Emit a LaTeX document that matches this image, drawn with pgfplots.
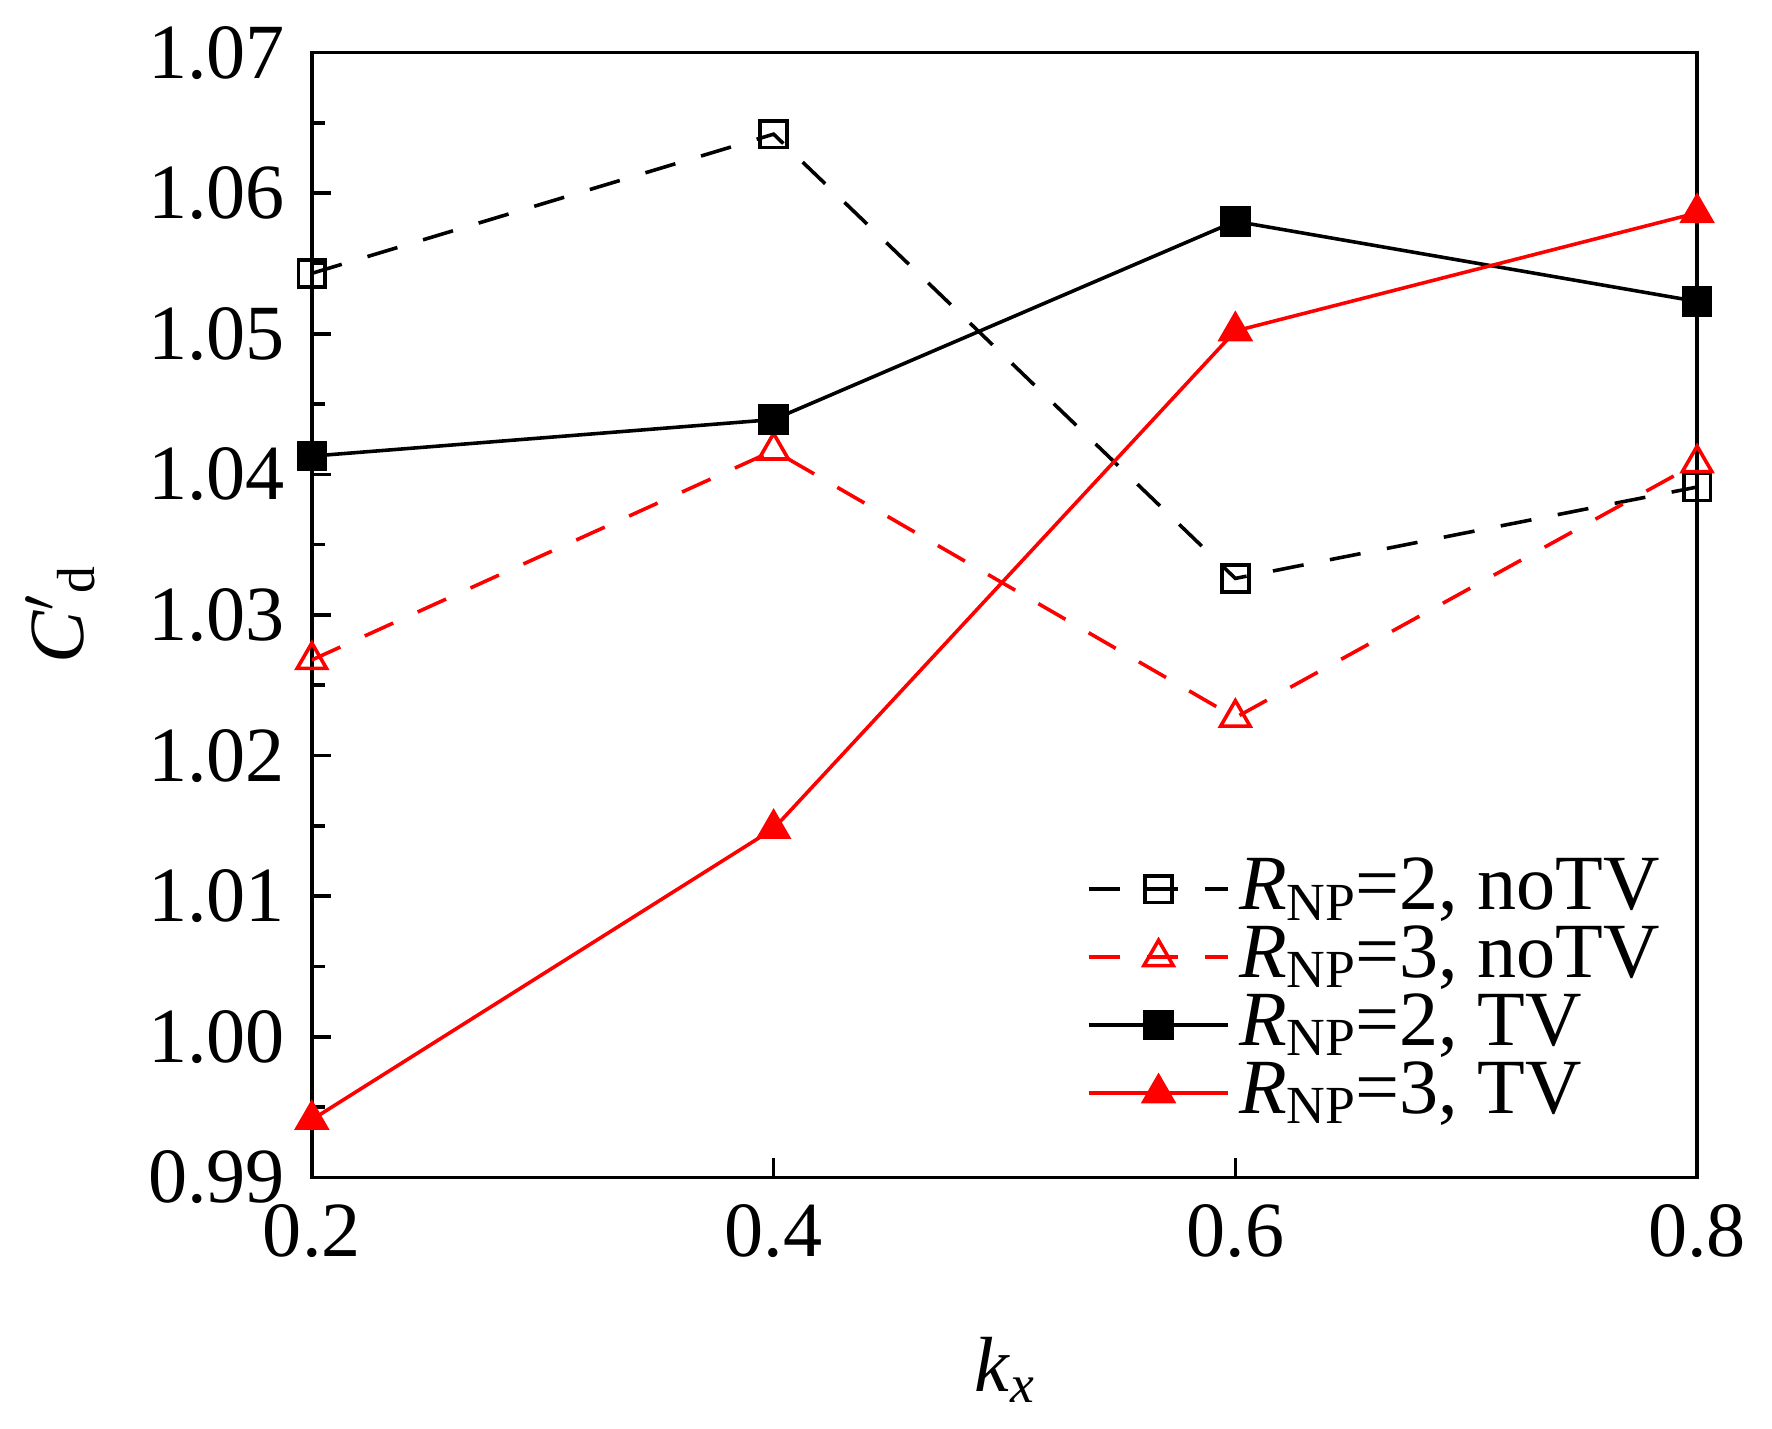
\documentclass[border=0pt]{standalone}
\usepackage{pgfplots}
\pgfplotsset{compat=1.18}
\usepackage{fontspec}
\setmainfont{Liberation Serif}
\begin{document}
\fontsize{17.5}{21}\selectfont
\begin{tikzpicture}
\begin{axis}[
  scale only axis, width=10.9cm, height=8.85cm,
  xmin=0.2, xmax=0.8, ymin=0.99, ymax=1.07,
  xtick={0.2,0.4,0.6,0.8},
  ytick={0.99,1.00,...,1.07},
  minor y tick num=1,
  xticklabel style={/pgf/number format/fixed,/pgf/number format/precision=1},
  yticklabel style={/pgf/number format/fixed,/pgf/number format/fixed zerofill,/pgf/number format/precision=2},
  /pgf/number format/assume math mode=true,
  tick align=inside, xtick pos=bottom, ytick pos=left,
  tick style={black, thick}, axis line style={thick},
  xlabel={\textit{k}\raisebox{-0.3ex}{\fontsize{12}{14}\selectfont\textit{x}}},
  ylabel={\textit{C}$'$\raisebox{-0.3ex}{\fontsize{12}{14}\selectfont d}},
  xlabel style={yshift=-6pt},
  legend style={draw=none, fill=none, at={(0.99,0.03)}, anchor=south east, row sep=-3pt},
  legend cell align=left,
  legend image code/.code={\draw[#1,mark repeat=2,mark phase=2] plot coordinates {(0cm,0cm)(0.55cm,0cm)(1.1cm,0cm)};},
  clip mode=global,
]
\addplot[black, dash pattern=on 7pt off 6pt, thick, mark=square, mark size=3pt, mark options={solid}]
  coordinates {(0.2,1.0543)(0.4,1.0642)(0.6,1.0326)(0.8,1.0391)};
\addlegendentry{\textit{R}\raisebox{-0.3ex}{\fontsize{12}{14}\selectfont NP}=2, noTV}
\addplot[red, dash pattern=on 7pt off 6pt, thick, mark=triangle, mark size=3.8pt, mark options={solid}]
  coordinates {(0.2,1.0268)(0.4,1.0417)(0.6,1.0227)(0.8,1.0408)};
\addlegendentry{\textit{R}\raisebox{-0.3ex}{\fontsize{12}{14}\selectfont NP}=3, noTV}
\addplot[black, thick, mark=square*, mark size=3pt]
  coordinates {(0.2,1.0413)(0.4,1.0439)(0.6,1.0580)(0.8,1.0523)};
\addlegendentry{\textit{R}\raisebox{-0.3ex}{\fontsize{12}{14}\selectfont NP}=2, TV}
\addplot[red, thick, mark=triangle*, mark size=3.8pt]
  coordinates {(0.2,0.9941)(0.4,1.0148)(0.6,1.0502)(0.8,1.0586)};
\addlegendentry{\textit{R}\raisebox{-0.3ex}{\fontsize{12}{14}\selectfont NP}=3, TV}
\end{axis}
\end{tikzpicture}
\end{document}
